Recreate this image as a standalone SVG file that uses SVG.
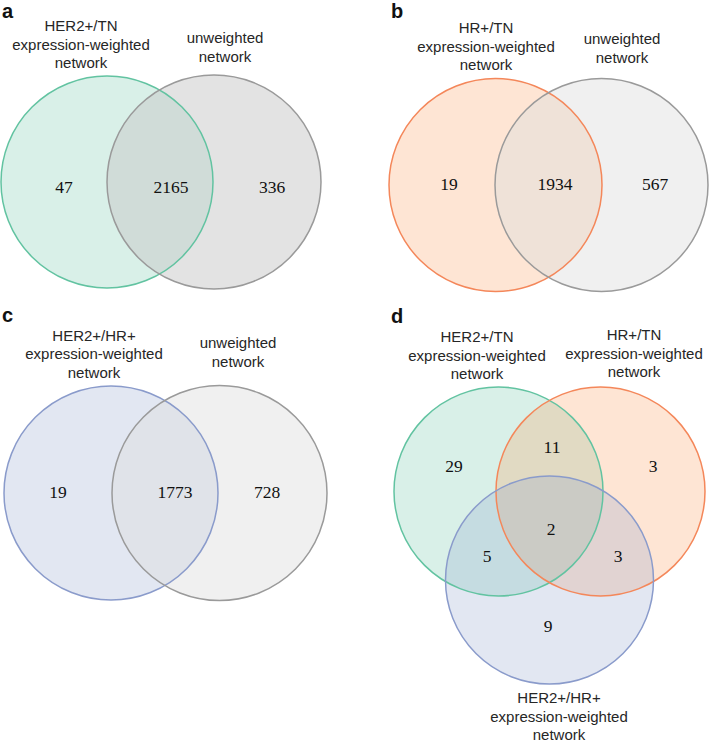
<svg xmlns="http://www.w3.org/2000/svg" width="712" height="743" viewBox="0 0 712 743">
<style>
.lbl{font-family:"Liberation Sans",Arial,sans-serif;font-size:15px;fill:#262626;text-anchor:middle}
.num{font-family:"Liberation Serif","Times New Roman",serif;font-size:17.5px;fill:#111;text-anchor:middle}
.pan{font-family:"Liberation Sans",Arial,sans-serif;font-size:20px;font-weight:bold;fill:#111}
.s{fill:none;stroke-width:1.5}
.f{stroke:none}
.gf{fill:rgb(102,194,165);fill-opacity:0.25}
.of{fill:rgb(250,150,85);fill-opacity:0.25}
.bf{fill:rgb(141,160,203);fill-opacity:0.25}
.kfA{fill:rgb(200,200,200);fill-opacity:0.5}
.kfB{fill:rgb(222,222,222);fill-opacity:0.45}
.gs{stroke:#62c3a1}
.os{stroke:#f4875a}
.bs{stroke:#8a9bcb}
.ks{stroke:#9a9a9a}
</style>
<rect width="712" height="743" fill="#fff"/>

<g id="fills">
  <circle class="f gf" cx="107" cy="182" r="106"/>
  <circle class="f kfA" cx="214" cy="182" r="107"/>
  <circle class="f of" cx="495.5" cy="185" r="106.5"/>
  <circle class="f kfB" cx="601.5" cy="185" r="106.5"/>
  <circle class="f bf" cx="111" cy="493" r="107"/>
  <circle class="f kfB" cx="219.5" cy="493" r="107.5"/>
  <circle class="f gf" cx="498.5" cy="491.5" r="104.5"/>
  <circle class="f of" cx="600.5" cy="491.5" r="104.5"/>
  <circle class="f bf" cx="549.5" cy="580" r="104"/>
</g>

<g id="panel-a">
  <text class="pan" x="2" y="18">a</text>
  <g id="a-weighted">
    <circle class="s gs" cx="107" cy="182" r="106"/>
    <text class="lbl" x="81" y="31">HER2+/TN</text>
    <text class="lbl" x="81" y="49.5">expression-weighted</text>
    <text class="lbl" x="81" y="68">network</text>
  </g>
  <g id="a-unweighted">
    <circle class="s ks" cx="214" cy="182" r="107"/>
    <text class="lbl" x="225" y="43">unweighted</text>
    <text class="lbl" x="225" y="61.5">network</text>
  </g>
  <text class="num" x="64" y="193">47</text>
  <text class="num" x="171" y="193">2165</text>
  <text class="num" x="272" y="193">336</text>
</g>

<g id="panel-b">
  <text class="pan" x="391" y="18">b</text>
  <g id="b-weighted">
    <circle class="s os" cx="495.5" cy="185" r="106.5"/>
    <text class="lbl" x="486" y="33">HR+/TN</text>
    <text class="lbl" x="486" y="51.5">expression-weighted</text>
    <text class="lbl" x="486" y="70">network</text>
  </g>
  <g id="b-unweighted">
    <circle class="s ks" cx="601.5" cy="185" r="106.5"/>
    <text class="lbl" x="622" y="44">unweighted</text>
    <text class="lbl" x="622" y="62.5">network</text>
  </g>
  <text class="num" x="449" y="190">19</text>
  <text class="num" x="555" y="190">1934</text>
  <text class="num" x="655" y="190">567</text>
</g>

<g id="panel-c">
  <text class="pan" x="2" y="322">c</text>
  <g id="c-weighted">
    <circle class="s bs" cx="111" cy="493" r="107"/>
    <text class="lbl" x="94" y="340.5">HER2+/HR+</text>
    <text class="lbl" x="94" y="359">expression-weighted</text>
    <text class="lbl" x="94" y="377.5">network</text>
  </g>
  <g id="c-unweighted">
    <circle class="s ks" cx="219.5" cy="493" r="107.5"/>
    <text class="lbl" x="238" y="348">unweighted</text>
    <text class="lbl" x="238" y="366.5">network</text>
  </g>
  <text class="num" x="58" y="498">19</text>
  <text class="num" x="175" y="498">1773</text>
  <text class="num" x="267" y="498">728</text>
</g>

<g id="panel-d">
  <text class="pan" x="391" y="323">d</text>
  <g id="d-her2tn">
    <circle class="s gs" cx="498.5" cy="491.5" r="104.5"/>
    <text class="lbl" x="477" y="342">HER2+/TN</text>
    <text class="lbl" x="477" y="360.5">expression-weighted</text>
    <text class="lbl" x="477" y="379">network</text>
  </g>
  <g id="d-hrtn">
    <circle class="s os" cx="600.5" cy="491.5" r="104.5"/>
    <text class="lbl" x="634" y="340">HR+/TN</text>
    <text class="lbl" x="634" y="358.5">expression-weighted</text>
    <text class="lbl" x="634" y="377">network</text>
  </g>
  <g id="d-her2hr">
    <circle class="s bs" cx="549.5" cy="580" r="104"/>
    <text class="lbl" x="559" y="703">HER2+/HR+</text>
    <text class="lbl" x="559" y="721.5">expression-weighted</text>
    <text class="lbl" x="559" y="740">network</text>
  </g>
  <text class="num" x="454" y="472">29</text>
  <text class="num" x="552" y="453">11</text>
  <text class="num" x="653" y="472">3</text>
  <text class="num" x="551" y="535">2</text>
  <text class="num" x="487" y="562">5</text>
  <text class="num" x="618" y="562">3</text>
  <text class="num" x="548" y="632">9</text>
</g>
</svg>
